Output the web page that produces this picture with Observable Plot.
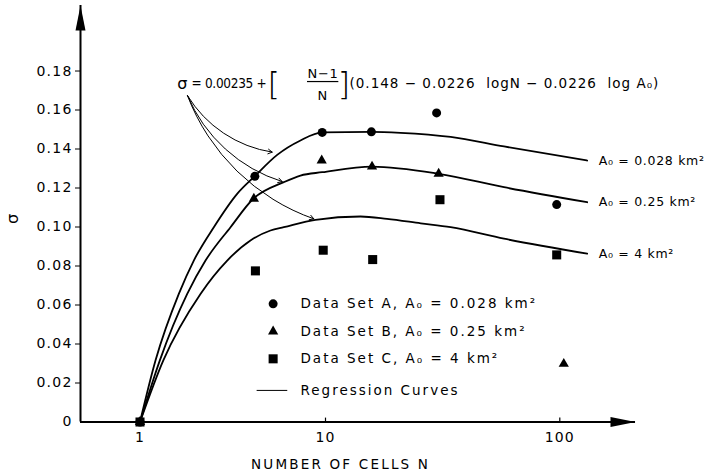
<!DOCTYPE html>
<html><head><meta charset="utf-8">
<script src="https://cdn.jsdelivr.net/npm/d3@7"></script>
<script src="https://cdn.jsdelivr.net/npm/@observablehq/plot@0.6"></script>
<style>
body{margin:0;background:#fff}
#chart svg{display:block}
#chart text{letter-spacing:1.2px}
</style></head><body><div id="chart"></div>
<script>
// ---- axes ----
const xDomain = [0.478, 1, 10, 100, 211];          // hand-drawn log axis (uneven decades)
const xRange  = [80, 139.5, 325, 559.3, 635];
const yMax = 0.2136;
const xTicks = [1, 10, 100];
const xTickLabels = ["1", "10", "100"];
const yTicks = [0.02, 0.04, 0.06, 0.08, 0.10, 0.12, 0.14, 0.16, 0.18];

// ---- data points ----
const setA_N = [1, 4.16, 9.6, 15.7, 29.8, 97];
const setA_s = [0, 0.126, 0.1485, 0.1488, 0.1585, 0.1115];
const setB_N = [1, 4.11, 9.54, 15.8, 30.4, 104];
const setB_s = [0, 0.1145, 0.1341, 0.131, 0.1273, 0.0298];
const setC_N = [1, 4.19, 9.72, 15.9, 30.8, 97];
const setC_s = [0, 0.0775, 0.0881, 0.0833, 0.114, 0.0857];

// ---- regression curves ----
const curveA_N = [1, 1.212, 1.619, 1.95, 2.5, 3.34, 4.16, 5.49, 7.33, 9.6, 15.7, 20.9, 34.2, 57.8, 131];
const curveA_s = [0, 0.0315, 0.0657, 0.0828, 0.0999, 0.117, 0.1261, 0.137, 0.1444, 0.1485, 0.1488, 0.1483, 0.1462, 0.1413, 0.1341];
const curveB_N = [1, 1.278, 1.797, 2.255, 3.076, 4.08, 5.96, 7.33, 9.6, 15.8, 30.4, 57.8, 131];
const curveB_s = [0, 0.0315, 0.0657, 0.0828, 0.0999, 0.1145, 0.123, 0.1264, 0.1281, 0.131, 0.1273, 0.1204, 0.1127];
const curveC_N = [1, 1.334, 2.119, 2.952, 3.94, 5.05, 5.96, 8.83, 14.1, 18.3, 25.5, 34.2, 57.8, 131];
const curveC_s = [0, 0.0315, 0.0657, 0.0828, 0.0931, 0.0982, 0.0999, 0.1037, 0.1054, 0.1042, 0.1019, 0.0999, 0.094, 0.0863];

// ---- text ----
const curveLabels = ["A\u2080 = 0.028 km\u00b2", "A\u2080 = 0.25 km\u00b2", "A\u2080 = 4 km\u00b2"];
const legendLabels = ["Data Set A, A\u2080 = 0.028 km\u00b2", "Data Set B, A\u2080 = 0.25 km\u00b2", "Data Set C, A\u2080 = 4 km\u00b2", "Regression Curves"];
const xTitle = "NUMBER OF CELLS N";
const yTitle = "\u03c3";
const formulaLead = "= 0.00235 +";
const formulaNum = "N\u22121";
const formulaDen = "N";
const formulaTail = "(0.148 \u2212 0.0226  logN \u2212 0.0226  log A\u2080)";

// ---- annotation anchors (data units) ----
const curveLabelN = 146.8;
const curveLabelS = [0.1341, 0.1127, 0.0863];
const legendMarkN = 5.22, legendTextN = 7.33;
const legendRowS = [0.0606, 0.0464, 0.0324, 0.0162];
const legendLineN = [4.28, 6.26];
const arrowStart = {N: 1.803, s: 0.1674};
const arrowEndN = [5.16, 5.84, 8.65];
const arrowEndS = [0.1384, 0.1233, 0.1042];

const pts = (N, s) => N.map((n, i) => ({N: n, s: s[i]}));
const curves = [
  ...pts(curveA_N, curveA_s).map(d => ({...d, k: "A"})),
  ...pts(curveB_N, curveB_s).map(d => ({...d, k: "B"})),
  ...pts(curveC_N, curveC_s).map(d => ({...d, k: "C"}))
];
const arrowhead = {draw(ctx) { ctx.moveTo(0, 0); ctx.lineTo(-5, 25); ctx.lineTo(5, 25); ctx.closePath(); }};
const F = "DejaVu Sans";

const chart = Plot.plot({
  width: 708, height: 475,
  marginLeft: 80, marginRight: 73, marginTop: 5, marginBottom: 53.5,
  style: {fontFamily: F, background: "white", color: "black"},
  x: {type: "log", domain: xDomain, range: xRange, label: null},
  y: {domain: [0, yMax], label: null},
  marks: [
    // axes lines + arrowheads
    Plot.ruleY([0], {x1: xDomain[0], x2: xDomain[4], strokeWidth: 2}),
    Plot.ruleX([xDomain[0]], {y1: 0, y2: yMax, strokeWidth: 2}),
    Plot.dot([{N: xDomain[0], s: yMax}], {x: "N", y: "s", symbol: arrowhead, fill: "black", stroke: "none"}),
    Plot.dot([{N: xDomain[4], s: 0}], {x: "N", y: "s", symbol: arrowhead, rotate: 90, fill: "black", stroke: "none"}),
    Plot.axisY({ticks: yTicks, tickSize: 5, tickPadding: 3, fontSize: 14, tickFormat: d => d.toFixed(2), label: null}),
    Plot.axisY({ticks: [0], tickSize: 0, tickPadding: 8, fontSize: 14, tickFormat: () => "0", label: null}),
    Plot.ruleX(xTicks.slice(1), {y1: 0, y2: 0.002, strokeWidth: 1.2}),
    Plot.axisX({ticks: xTicks, tickSize: 0, tickPadding: 10, fontSize: 14, tickFormat: d => xTickLabels[xTicks.indexOf(d)], label: null}),
    Plot.text([xTitle], {x: 11.6, y: -0.0218, text: d => d, fontSize: 13.5}),
    Plot.text([yTitle], {x: 0.2055, y: 0.1044, text: d => d, fontSize: 16, rotate: -90}),
    // curves
    Plot.line(curves, {x: "N", y: "s", z: "k", curve: "monotone-x", strokeWidth: 1.8, stroke: "black"}),
    // data
    Plot.dot(pts(setA_N, setA_s), {x: "N", y: "s", symbol: "circle", r: 4.5, fill: "black"}),
    Plot.dot(pts(setB_N, setB_s), {x: "N", y: "s", symbol: "triangle", r: 3.8, fill: "black"}),
    Plot.dot(pts(setC_N, setC_s), {x: "N", y: "s", symbol: "square", r: 5.1, fill: "black"}),
    // curve labels
    Plot.text(curveLabels, {x: () => curveLabelN, y: (d, i) => curveLabelS[i], text: d => d, textAnchor: "start", fontSize: 12.5}),
    // legend
    Plot.dot([0], {x: legendMarkN, y: legendRowS[0], symbol: "circle", r: 4.5, fill: "black"}),
    Plot.dot([0], {x: legendMarkN, y: legendRowS[1], symbol: "triangle", r: 3.8, fill: "black"}),
    Plot.dot([0], {x: legendMarkN, y: legendRowS[2], symbol: "square", r: 5.1, fill: "black"}),
    Plot.ruleY([legendRowS[3]], {x1: legendLineN[0], x2: legendLineN[1], strokeWidth: 1}),
    Plot.text(legendLabels, {x: () => legendTextN, y: (d, i) => legendRowS[i], text: d => d, textAnchor: "start", fontSize: 13.5}),
    // formula
    Plot.text([yTitle], {x: 1.705, y: 0.1735, text: d => d, fontSize: 16}),
    Plot.text([formulaLead], {x: 1.895, y: 0.1735, text: d => d, textAnchor: "start", fontSize: 13.5, fontFamily: "DejaVu Sans Condensed"}),
    Plot.text(["["], {x: 5.265, y: 0.1728, text: d => d, fontSize: 32, fontWeight: 300}),
    Plot.text([formulaNum], {x: 9.69, y: 0.1786, text: d => d, fontSize: 13}),
    Plot.ruleY([0.1746], {x1: 8.0, x2: 11.4, strokeWidth: 1.2}),
    Plot.text([formulaDen], {x: 9.69, y: 0.1674, text: d => d, fontSize: 13}),
    Plot.text(["]"], {x: 12.0, y: 0.1728, text: d => d, fontSize: 32, fontWeight: 300}),
    Plot.text([formulaTail], {x: 12.66, y: 0.1735, text: d => d, textAnchor: "start", fontSize: 13.5}),
    // arrows
    Plot.arrow(arrowEndN.map((n, i) => ({x1: arrowStart.N, y1: arrowStart.s, x2: n, y2: arrowEndS[i]})),
      {x1: "x1", y1: "y1", x2: "x2", y2: "y2", bend: -25, headLength: 7, strokeWidth: 1, stroke: "black"})
  ]
});
// letter spacing per text group (imitating the hand lettering)
const spacing = new Map([
  ...legendLabels.map(t => [t, "2px"]),
  ...curveLabels.map(t => [t, "0.7px"]),
  [xTitle, "2.2px"], [formulaLead, "-0.3px"], [formulaNum, "0.6px"], [formulaTail, "1px"], ["[", "0px"], ["]", "0px"]
]);
d3.select(chart).selectAll("text").each(function() {
  const s = spacing.get(this.textContent);
  if (s !== undefined) this.style.letterSpacing = s;
});
document.getElementById("chart").append(chart);
</script></body></html>
